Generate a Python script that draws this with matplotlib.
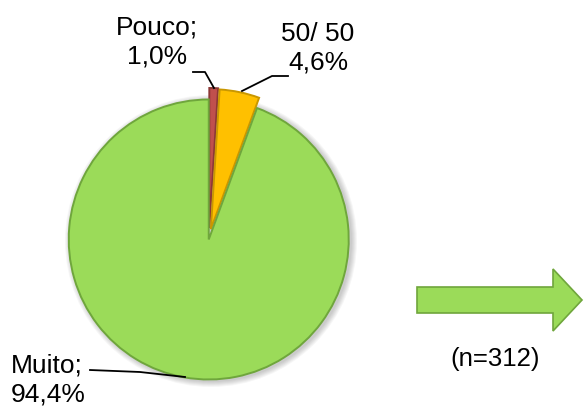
import matplotlib.pyplot as plt
from matplotlib.patches import FancyArrow, Circle

labels = ['Pouco', '50/ 50', 'Muito']
shares = [1.0, 4.6, 94.4]
sample_note = '(n=312)'

colors = ['#C0504D', '#FFC000', '#9BDB59']
edges = ['#8C3836', '#C99700', '#6FA63C']

plt.rcParams['font.family'] = ['Liberation Sans', 'DejaVu Sans']

fig = plt.figure(figsize=(5.86, 4.13), dpi=100)
ax = fig.add_axes([0, 0, 1, 1])

# pixel-like coordinates, y goes up
H = 413
cx, cy, r = 209, H - 238, 140

# soft shadow behind the pie
for i in range(6):
    ax.add_patch(Circle((cx + 2, cy - 3), r + 1 + i, color='black',
                        alpha=0.035, lw=0, zorder=0))

# pie explode is not scaled by radius, so these are pixel offsets
wedges, _ = ax.pie(shares, colors=colors, startangle=90, counterclock=False,
                   explode=[10, 9, 1.5], radius=r, center=(cx, cy),
                   frame=True, wedgeprops=dict(linewidth=1.4))
for w, ec in zip(wedges, edges):
    w.set_edgecolor(ec)
    w.set_zorder(2)

ax.set_xlim(0, 586)
ax.set_ylim(0, H)
ax.set_aspect('equal')
ax.axis('off')

fs = 19
ax.text(157, H - 42, f'{labels[0]};\n{shares[0]:.1f}%'.replace('.', ','),
        ha='center', va='center', fontsize=fs, linespacing=1.25)
ax.text(318, H - 48, f'{labels[1]}\n{shares[1]:.1f}%'.replace('.', ','),
        ha='center', va='center', fontsize=fs, linespacing=1.25)
ax.text(11, H - 380, f'{labels[2]};\n{shares[2]:.1f}%'.replace('.', ','),
        ha='left', va='center', fontsize=fs, linespacing=1.3)

# leader lines
ax.plot([193, 205, 214], [H - 72, H - 72, H - 88], color='black', lw=1.3, zorder=3)
ax.plot([242, 272, 288], [H - 91, H - 76, H - 76], color='black', lw=1.3, zorder=3)
ax.plot([90, 140, 185], [H - 370, H - 372, H - 377], color='black', lw=1.3, zorder=3)

# arrow and sample size
arrow = FancyArrow(417, H - 300, 165, 0, width=26, head_width=62, head_length=29,
                   length_includes_head=True, facecolor='#9BDB59',
                   edgecolor='#6FA63C', linewidth=1.2)
ax.add_patch(arrow)
ax.text(495, H - 359, sample_note, ha='center', va='center', fontsize=fs - 0.5)

fig.savefig('out.png', dpi=100)
